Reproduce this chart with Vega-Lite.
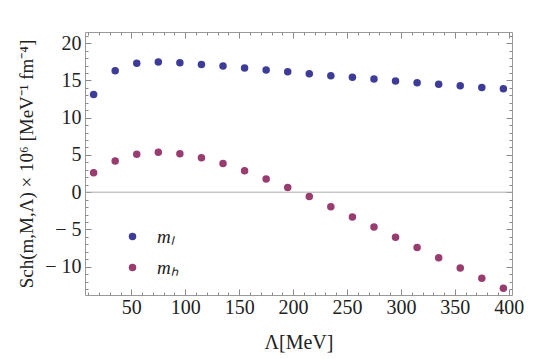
{
  "$schema": "https://vega.github.io/schema/vega-lite/v6.json",
  "width": 427,
  "height": 263,
  "autosize": {"type": "none"},
  "padding": {"left": 85, "top": 32, "right": 33, "bottom": 64},
  "background": "white",
  "config": {
    "view": {"stroke": "#9a9a9a", "strokeWidth": 1},
    "font": "Liberation Serif",
    "axis": {
      "domain": false,
      "grid": false,
      "labelFont": "Liberation Serif",
      "labelFontSize": 20,
      "labelColor": "#222",
      "titleFont": "Liberation Serif",
      "titleFontWeight": "normal",
      "titleFontSize": 20,
      "titleColor": "#222",
      "tickColor": "#8a8a8a"
    }
  },
  "datasets": {
    "pts": [
      {"L": 15, "S": 13.1, "series": "mₗ"},
      {"L": 35, "S": 16.3, "series": "mₗ"},
      {"L": 55, "S": 17.3, "series": "mₗ"},
      {"L": 75, "S": 17.47, "series": "mₗ"},
      {"L": 95, "S": 17.37, "series": "mₗ"},
      {"L": 115, "S": 17.15, "series": "mₗ"},
      {"L": 135, "S": 16.93, "series": "mₗ"},
      {"L": 155, "S": 16.67, "series": "mₗ"},
      {"L": 175, "S": 16.4, "series": "mₗ"},
      {"L": 195, "S": 16.17, "series": "mₗ"},
      {"L": 215, "S": 15.9, "series": "mₗ"},
      {"L": 235, "S": 15.64, "series": "mₗ"},
      {"L": 255, "S": 15.42, "series": "mₗ"},
      {"L": 275, "S": 15.2, "series": "mₗ"},
      {"L": 295, "S": 14.93, "series": "mₗ"},
      {"L": 315, "S": 14.7, "series": "mₗ"},
      {"L": 335, "S": 14.48, "series": "mₗ"},
      {"L": 355, "S": 14.27, "series": "mₗ"},
      {"L": 375, "S": 14.04, "series": "mₗ"},
      {"L": 395, "S": 13.87, "series": "mₗ"},
      {"L": 15, "S": 2.61, "series": "mₕ"},
      {"L": 35, "S": 4.17, "series": "mₕ"},
      {"L": 55, "S": 5.1, "series": "mₕ"},
      {"L": 75, "S": 5.37, "series": "mₕ"},
      {"L": 95, "S": 5.15, "series": "mₕ"},
      {"L": 115, "S": 4.62, "series": "mₕ"},
      {"L": 135, "S": 3.86, "series": "mₕ"},
      {"L": 155, "S": 2.88, "series": "mₕ"},
      {"L": 175, "S": 1.77, "series": "mₕ"},
      {"L": 195, "S": 0.62, "series": "mₕ"},
      {"L": 215, "S": -0.58, "series": "mₕ"},
      {"L": 235, "S": -1.96, "series": "mₕ"},
      {"L": 255, "S": -3.33, "series": "mₕ"},
      {"L": 275, "S": -4.67, "series": "mₕ"},
      {"L": 295, "S": -6.05, "series": "mₕ"},
      {"L": 315, "S": -7.43, "series": "mₕ"},
      {"L": 335, "S": -8.8, "series": "mₕ"},
      {"L": 355, "S": -10.19, "series": "mₕ"},
      {"L": 375, "S": -11.56, "series": "mₕ"},
      {"L": 395, "S": -12.9, "series": "mₕ"}
    ]
  },
  "resolve": {"axis": {"x": "independent", "y": "independent"}},
  "layer": [
    {
      "data": {"name": "pts"},
      "mark": {"type": "point", "filled": true, "opacity": 1, "size": 56, "strokeWidth": 0},
      "encoding": {
        "x": {
          "field": "L", "type": "quantitative",
          "scale": {"domain": [7, 403], "nice": false, "zero": false},
          "axis": {
            "orient": "bottom",
            "title": "Λ[MeV]",
            "titlePadding": 15,
            "values": [10,20,30,40,50,60,70,80,90,100,110,120,130,140,150,160,170,180,190,200,210,220,230,240,250,260,270,280,290,300,310,320,330,340,350,360,370,380,390,400],
            "labelExpr": "datum.value % 50 === 0 ? datum.label : ''",
            "tickSize": {"condition": {"test": "datum.value % 50 === 0", "value": -6}, "value": -3},
            "labelPadding": 8,
            "labelFlush": false
          }
        },
        "y": {
          "field": "S", "type": "quantitative",
          "scale": {"domain": [-13.8, 21.5], "nice": false, "zero": false},
          "axis": {
            "orient": "left",
            "title": "Sch(m,M,Λ) × 10⁶ [MeV⁻¹ fm⁻⁴]",
            "titleFontSize": 19,
            "titlePadding": 8,
            "values": [-13,-12,-11,-10,-9,-8,-7,-6,-5,-4,-3,-2,-1,0,1,2,3,4,5,6,7,8,9,10,11,12,13,14,15,16,17,18,19,20,21],
            "labelExpr": "datum.value % 5 === 0 ? replace(datum.label, '−', '− ') : ''",
            "tickSize": {"condition": {"test": "datum.value % 5 === 0", "value": -6}, "value": -3},
            "labelPadding": 10,
            "labelFlush": false
          }
        },
        "color": {
          "field": "series", "type": "nominal",
          "scale": {"domain": ["mₗ", "mₕ"], "range": ["#3d3d99", "#993d71"]},
          "legend": {
            "orient": "none",
            "legendX": 38,
            "legendY": 195,
            "title": null,
            "padding": 0,
            "symbolType": "circle",
            "symbolSize": 56,
            "symbolStrokeWidth": 0,
            "labelFont": "Liberation Serif",
            "labelFontStyle": "italic",
            "labelFontSize": 19,
            "labelColor": "#222",
            "labelOffset": 15,
            "rowPadding": 11
          }
        }
      }
    },
    {
      "data": {"values": [{}]},
      "mark": {"type": "rule", "color": "#aaaaaa", "strokeWidth": 1},
      "encoding": {
        "x": {
          "datum": 7, "type": "quantitative",
          "axis": {
            "orient": "top",
            "title": null,
            "values": [10,20,30,40,50,60,70,80,90,100,110,120,130,140,150,160,170,180,190,200,210,220,230,240,250,260,270,280,290,300,310,320,330,340,350,360,370,380,390,400],
            "labels": false,
            "tickSize": {"condition": {"test": "datum.value % 50 === 0", "value": -6}, "value": -3}
          }
        },
        "x2": {"datum": 403},
        "y": {
          "datum": 0, "type": "quantitative",
          "axis": {
            "orient": "right",
            "title": null,
            "values": [-13,-12,-11,-10,-9,-8,-7,-6,-5,-4,-3,-2,-1,0,1,2,3,4,5,6,7,8,9,10,11,12,13,14,15,16,17,18,19,20,21],
            "labels": false,
            "tickSize": {"condition": {"test": "datum.value % 5 === 0", "value": -6}, "value": -3}
          }
        }
      }
    }
  ]
}
